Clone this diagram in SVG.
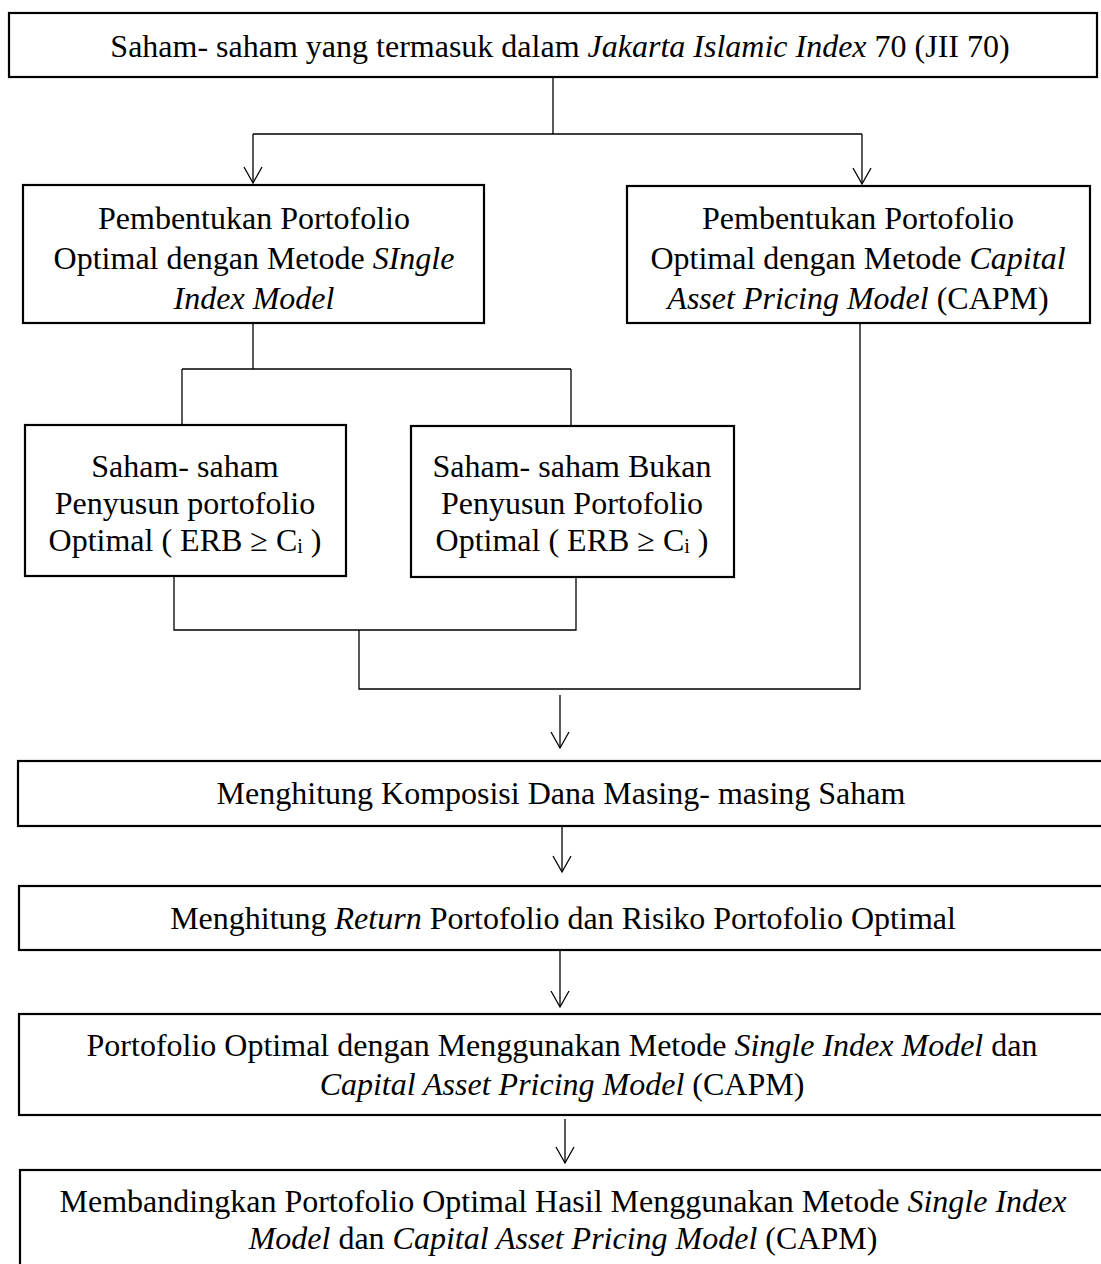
<svg xmlns="http://www.w3.org/2000/svg" width="1101" height="1264" viewBox="0 0 1101 1264">
<style>
.box{fill:#fff;stroke:#000;stroke-width:2.2}
.t{font-family:"Liberation Serif","Times New Roman",serif;font-size:32px;fill:#000;text-anchor:middle}
.i{font-style:italic}
.c{fill:none;stroke:#000;stroke-width:1.3}
.sub{font-size:20px}
</style>
<defs>
<marker id="arr" markerUnits="userSpaceOnUse" markerWidth="40" markerHeight="40" refX="0" refY="0" orient="auto" overflow="visible">
<path d="M-16,-9 L0,0 L-16,9" fill="none" stroke="#000" stroke-width="1.3"/>
</marker>
</defs>
<rect x="0" y="0" width="1101" height="1264" fill="#fff"/>
<g id="connectors">
<path class="c" d="M553,77 V134"/>
<path class="c" d="M253,134 H862"/>
<path class="c" d="M253,134 V183" marker-end="url(#arr)"/>
<path class="c" d="M862,134 V184" marker-end="url(#arr)"/>
<path class="c" d="M253,323 V369"/>
<path class="c" d="M182,369 H571"/>
<path class="c" d="M182,369 V425"/>
<path class="c" d="M571,369 V426"/>
<path class="c" d="M174,576 V630 H576 V577"/>
<path class="c" d="M359,630 V689 H860 V323"/>
<path class="c" d="M560,695 V748" marker-end="url(#arr)"/>
<path class="c" d="M562,826 V872" marker-end="url(#arr)"/>
<path class="c" d="M560,950 V1007" marker-end="url(#arr)"/>
<path class="c" d="M565,1119 V1163" marker-end="url(#arr)"/>
</g>
<g id="n1">
<rect class="box" x="9" y="13" width="1088" height="64"/>
<text class="t" x="560" y="57">Saham- saham yang termasuk dalam <tspan class="i">Jakarta Islamic Index</tspan> 70 (JII 70)</text>
</g>
<g id="n2">
<rect class="box" x="23" y="185" width="461" height="138"/>
<text class="t" x="254" y="229">Pembentukan Portofolio</text>
<text class="t" x="254" y="269">Optimal dengan Metode <tspan class="i">SIngle</tspan></text>
<text class="t i" x="254" y="309">Index Model</text>
</g>
<g id="n3">
<rect class="box" x="627" y="186" width="463" height="137"/>
<text class="t" x="858" y="229">Pembentukan Portofolio</text>
<text class="t" x="858" y="269">Optimal dengan Metode <tspan class="i">Capital</tspan></text>
<text class="t" x="858" y="309"><tspan class="i">Asset Pricing Model</tspan> (CAPM)</text>
</g>
<g id="n4">
<rect class="box" x="25" y="425" width="321" height="151"/>
<text class="t" x="185" y="477">Saham- saham</text>
<text class="t" x="185" y="514">Penyusun portofolio</text>
<text class="t" x="185" y="551">Optimal ( ERB ≥ C<tspan class="sub" dy="2">i</tspan><tspan dy="-2"> )</tspan></text>
</g>
<g id="n5">
<rect class="box" x="411" y="426" width="323" height="151"/>
<text class="t" x="572" y="477">Saham- saham Bukan</text>
<text class="t" x="572" y="514">Penyusun Portofolio</text>
<text class="t" x="572" y="551">Optimal ( ERB ≥ C<tspan class="sub" dy="2">i</tspan><tspan dy="-2"> )</tspan></text>
</g>
<g id="n6">
<rect class="box" x="18" y="761" width="1090" height="65"/>
<text class="t" x="561" y="804">Menghitung Komposisi Dana Masing- masing Saham</text>
</g>
<g id="n7">
<rect class="box" x="19" y="886" width="1090" height="64"/>
<text class="t" x="563" y="929">Menghitung <tspan class="i">Return</tspan> Portofolio dan Risiko Portofolio Optimal</text>
</g>
<g id="n8">
<rect class="box" x="19" y="1014" width="1090" height="101"/>
<text class="t" x="562" y="1056">Portofolio Optimal dengan Menggunakan Metode <tspan class="i">Single Index Model</tspan> dan</text>
<text class="t" x="562" y="1095"><tspan class="i">Capital Asset Pricing Model</tspan> (CAPM)</text>
</g>
<g id="n9">
<rect class="box" x="20" y="1170" width="1090" height="110"/>
<text class="t" x="563" y="1212">Membandingkan Portofolio Optimal Hasil Menggunakan Metode <tspan class="i">Single Index</tspan></text>
<text class="t" x="563" y="1249"><tspan class="i">Model</tspan> dan <tspan class="i">Capital Asset Pricing Model</tspan> (CAPM)</text>
</g>
</svg>
